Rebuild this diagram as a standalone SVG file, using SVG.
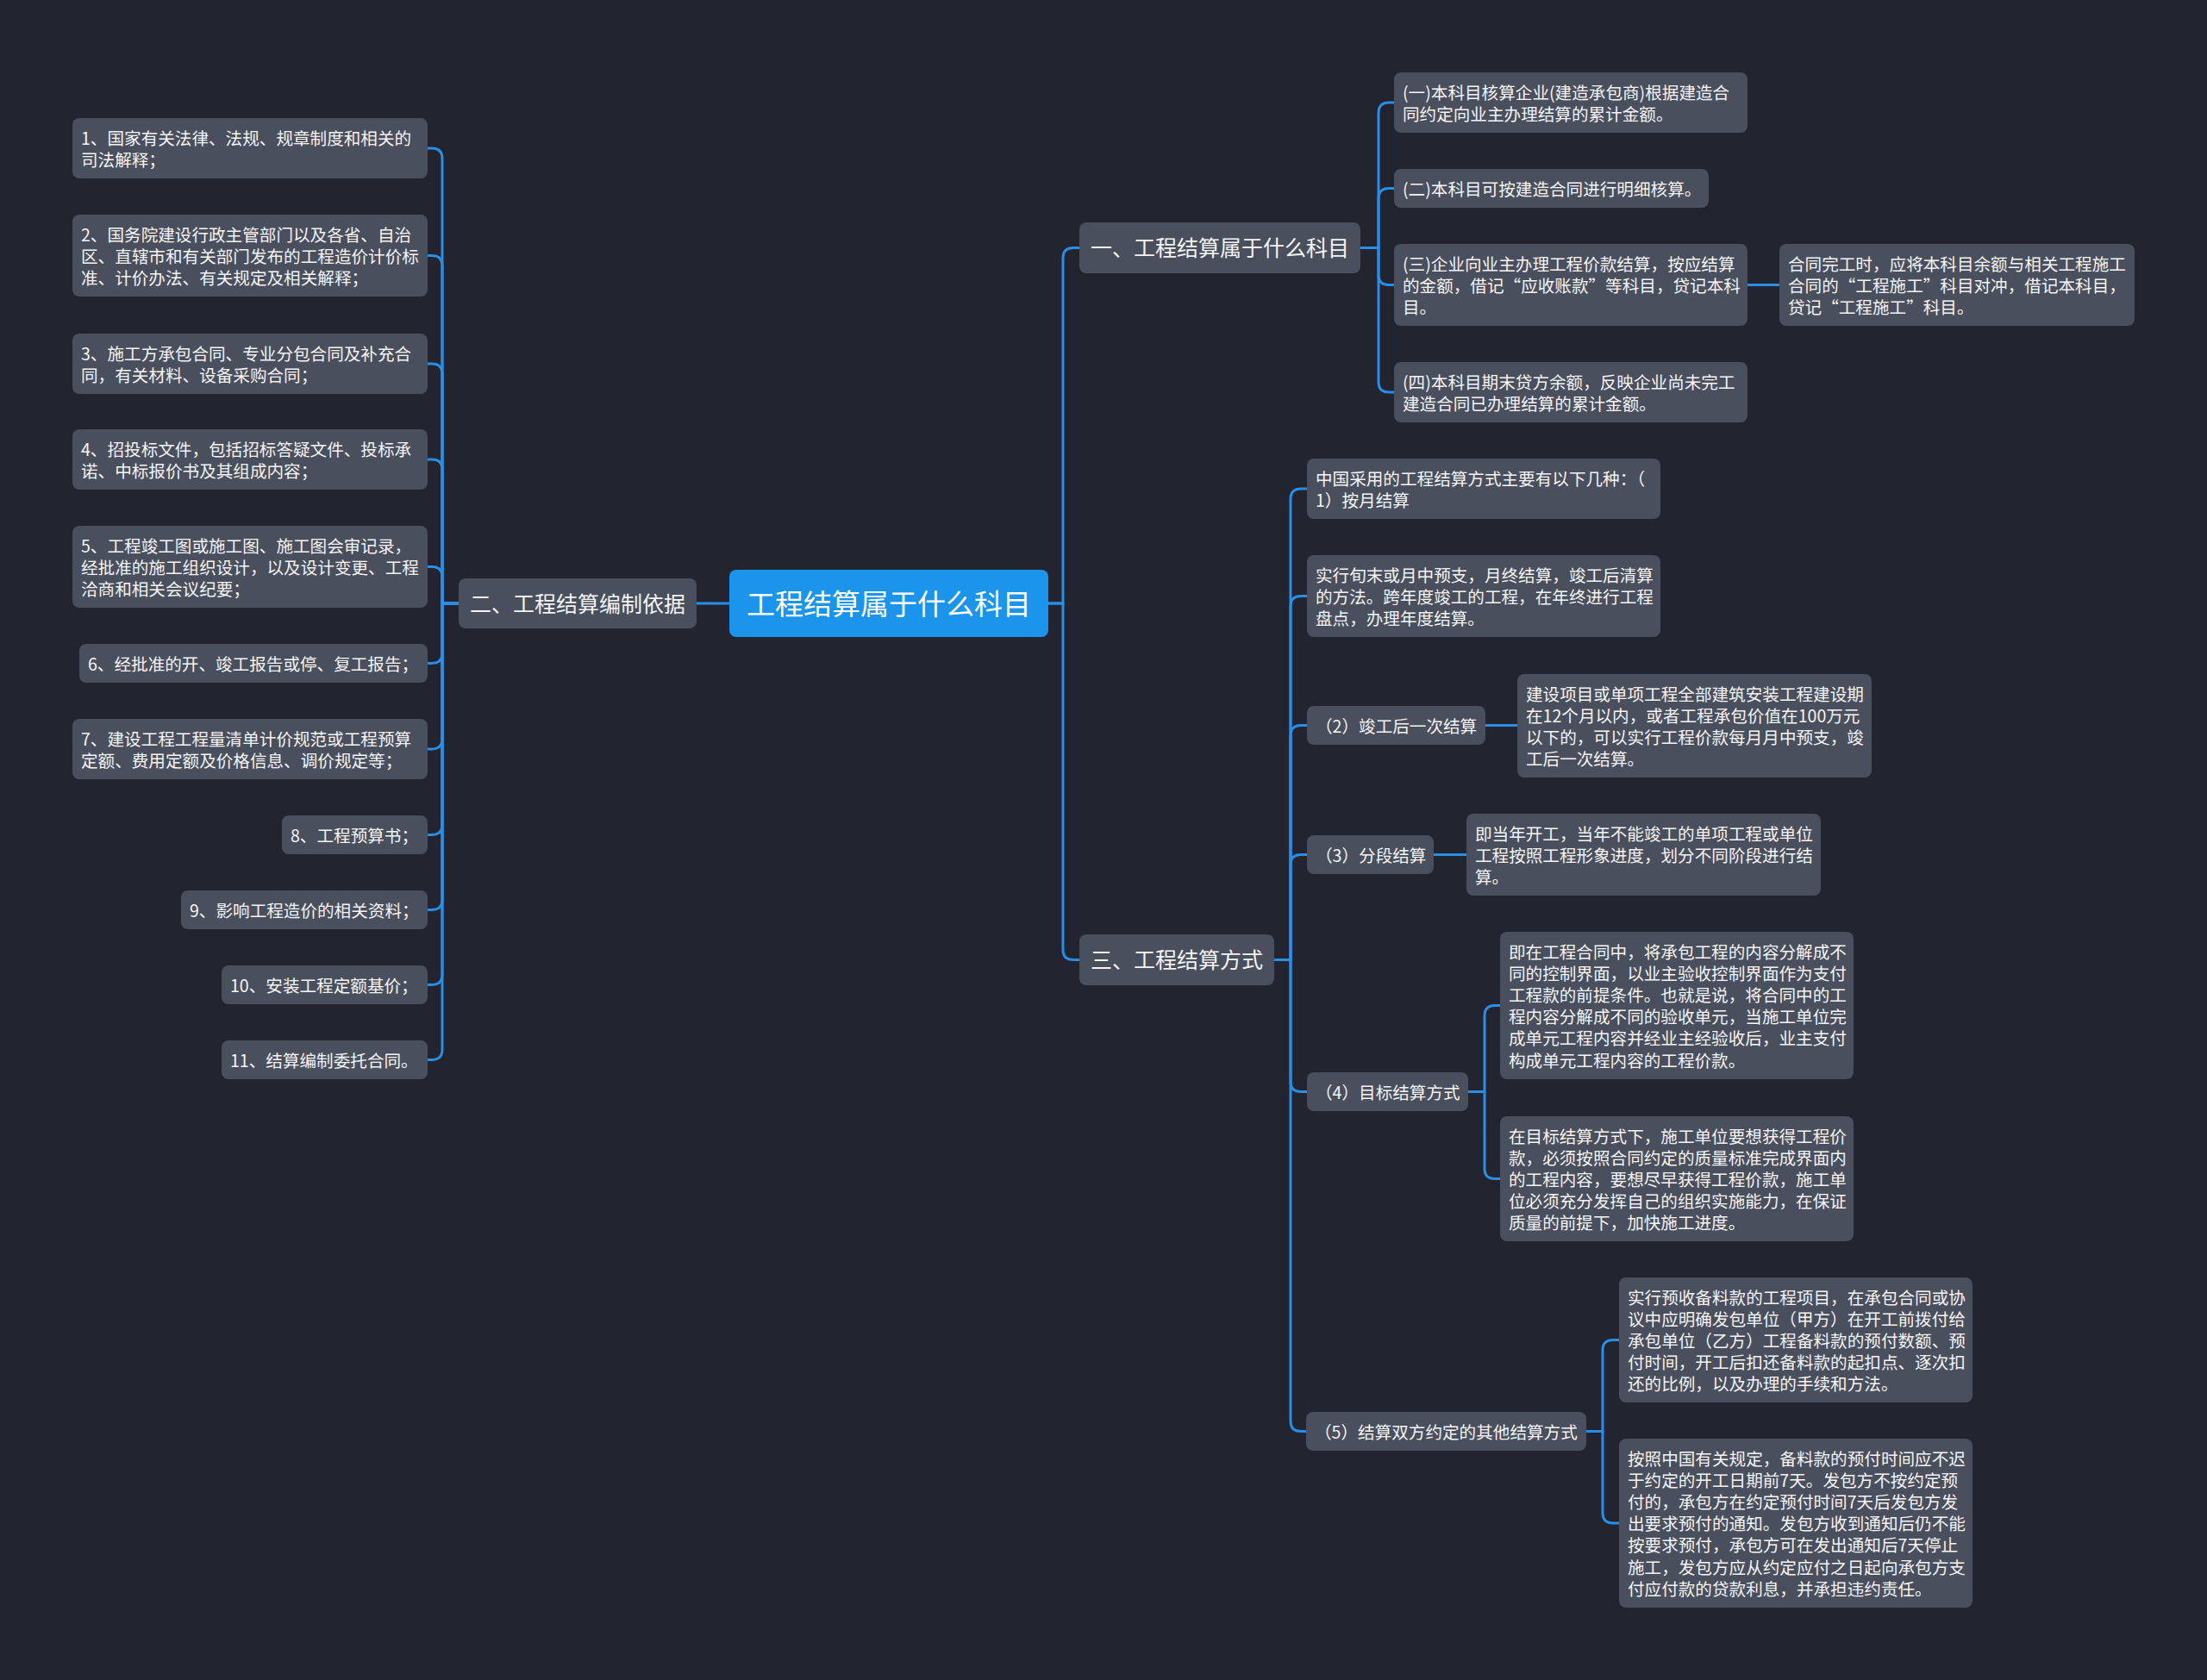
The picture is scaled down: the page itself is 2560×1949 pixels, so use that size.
<svg xmlns="http://www.w3.org/2000/svg" width="2560" height="1949" viewBox="0 0 2560 1949">
<style>
.bg{fill:#22252f}
.n{fill:#4a4f5e}
.c{fill:#1b94ec}
.t{font-family:"Noto Sans CJK SC","Noto Sans CJK JP",sans-serif;font-size:19.6px;fill:#f4f4f4}
.tb{font-family:"Noto Sans CJK SC","Noto Sans CJK JP",sans-serif;font-size:25px;fill:#f4f4f4}
.tc{font-family:"Noto Sans CJK SC","Noto Sans CJK JP",sans-serif;font-size:33px;fill:#ffffff}
.l{fill:none;stroke:#2a8de6;stroke-width:3;stroke-linecap:round;stroke-linejoin:round}
</style>
<rect class="bg" x="0" y="0" width="2560" height="1949"/>
<g id="connectors">
<path class="l" d="M846 700H808"/>
<path class="l" d="M532 700H513V184Q513 172 501 172H496"/>
<path class="l" d="M532 700H513V308.5Q513 296.5 501 296.5H496"/>
<path class="l" d="M532 700H513V434Q513 422 501 422H496"/>
<path class="l" d="M532 700H513V545Q513 533 501 533H496"/>
<path class="l" d="M532 700H513V669.5Q513 657.5 501 657.5H496"/>
<path class="l" d="M532 700H513V757.5Q513 769.5 501 769.5H496"/>
<path class="l" d="M532 700H513V857Q513 869 501 869H496"/>
<path class="l" d="M532 700H513V956.5Q513 968.5 501 968.5H496"/>
<path class="l" d="M532 700H513V1043.5Q513 1055.5 501 1055.5H496"/>
<path class="l" d="M532 700H513V1130.5Q513 1142.5 501 1142.5H496"/>
<path class="l" d="M532 700H513V1217.5Q513 1229.5 501 1229.5H496"/>
<path class="l" d="M1216 700H1233V299.5Q1233 287.5 1245 287.5H1252"/>
<path class="l" d="M1216 700H1233V1101.5Q1233 1113.5 1245 1113.5H1252"/>
<path class="l" d="M1578 287.5H1599V131Q1599 119 1611 119H1617"/>
<path class="l" d="M1578 287.5H1599V230.5Q1599 218.5 1611 218.5H1617"/>
<path class="l" d="M1578 287.5H1599V318.5Q1599 330.5 1611 330.5H1617"/>
<path class="l" d="M1578 287.5H1599V443Q1599 455 1611 455H1617"/>
<path class="l" d="M2027 330.5H2064"/>
<path class="l" d="M1478 1113.5H1497V579Q1497 567 1509 567H1516"/>
<path class="l" d="M1478 1113.5H1497V703.5Q1497 691.5 1509 691.5H1516"/>
<path class="l" d="M1478 1113.5H1497V853.5Q1497 841.5 1509 841.5H1516"/>
<path class="l" d="M1478 1113.5H1497V1003.5Q1497 991.5 1509 991.5H1516"/>
<path class="l" d="M1478 1113.5H1497V1254.5Q1497 1266.5 1509 1266.5H1516"/>
<path class="l" d="M1478 1113.5H1497V1648.5Q1497 1660.5 1509 1660.5H1515"/>
<path class="l" d="M1723 841.5H1760"/>
<path class="l" d="M1663 991.5H1701"/>
<path class="l" d="M1703 1266.5H1722V1178.5Q1722 1166.5 1734 1166.5H1740"/>
<path class="l" d="M1703 1266.5H1722V1355.5Q1722 1367.5 1734 1367.5H1740"/>
<path class="l" d="M1840 1660.5H1859V1566.5Q1859 1554.5 1871 1554.5H1878"/>
<path class="l" d="M1840 1660.5H1859V1755Q1859 1767 1871 1767H1878"/>
</g>
<g id="root"><rect class="c" x="846" y="661" width="370" height="78" rx="8"/><text class="tc" x="1031" y="712.5" text-anchor="middle">工程结算属于什么科目</text></g>
<g id="b2"><rect class="n" x="532" y="671" width="276" height="58" rx="8"/><text class="tb" x="545" y="709.5">二、工程结算编制依据</text></g>
<g id="b1"><rect class="n" x="1252" y="258" width="326" height="59" rx="8"/><text class="tb" x="1265" y="297">一、工程结算属于什么科目</text></g>
<g id="b3"><rect class="n" x="1252" y="1084" width="226" height="59" rx="8"/><text class="tb" x="1265" y="1123">三、工程结算方式</text></g>

<g id="L1"><rect class="n" x="84" y="137" width="412" height="70" rx="8"/><text class="t" x="94" y="167.5">1、国家有关法律、法规、规章制度和相关的<tspan x="94" dy="25.2">司法解释；</tspan></text></g>
<g id="L2"><rect class="n" x="84" y="249" width="412" height="95" rx="8"/><text class="t" x="94" y="279.5">2、国务院建设行政主管部门以及各省、自治<tspan x="94" dy="25.2">区、直辖市和有关部门发布的工程造价计价标</tspan><tspan x="94" dy="25.2">准、计价办法、有关规定及相关解释；</tspan></text></g>
<g id="L3"><rect class="n" x="84" y="387" width="412" height="70" rx="8"/><text class="t" x="94" y="417.5">3、施工方承包合同、专业分包合同及补充合<tspan x="94" dy="25.2">同，有关材料、设备采购合同；</tspan></text></g>
<g id="L4"><rect class="n" x="84" y="498" width="412" height="70" rx="8"/><text class="t" x="94" y="528.5">4、招投标文件，包括招标答疑文件、投标承<tspan x="94" dy="25.2">诺、中标报价书及其组成内容；</tspan></text></g>
<g id="L5"><rect class="n" x="84" y="610" width="412" height="95" rx="8"/><text class="t" x="94" y="640.5">5、工程竣工图或施工图、施工图会审记录，<tspan x="94" dy="25.2">经批准的施工组织设计，以及设计变更、工程</tspan><tspan x="94" dy="25.2">洽商和相关会议纪要；</tspan></text></g>
<g id="L6"><rect class="n" x="92" y="747" width="404" height="45" rx="8"/><text class="t" x="102" y="777.5">6、经批准的开、竣工报告或停、复工报告；</text></g>
<g id="L7"><rect class="n" x="84" y="834" width="412" height="70" rx="8"/><text class="t" x="94" y="864.5">7、建设工程工程量清单计价规范或工程预算<tspan x="94" dy="25.2">定额、费用定额及价格信息、调价规定等；</tspan></text></g>
<g id="L8"><rect class="n" x="327" y="946" width="169" height="45" rx="8"/><text class="t" x="337" y="976.5">8、工程预算书；</text></g>
<g id="L9"><rect class="n" x="210" y="1033" width="286" height="45" rx="8"/><text class="t" x="220" y="1063.5">9、影响工程造价的相关资料；</text></g>
<g id="L10"><rect class="n" x="257" y="1120" width="239" height="45" rx="8"/><text class="t" x="267" y="1150.5">10、安装工程定额基价；</text></g>
<g id="L11"><rect class="n" x="257" y="1207" width="239" height="45" rx="8"/><text class="t" x="267" y="1237.5">11、结算编制委托合同。</text></g>

<g id="R1"><rect class="n" x="1617" y="84" width="410" height="70" rx="8"/><text class="t" x="1627" y="114.5">(一)本科目核算企业(建造承包商)根据建造合<tspan x="1627" dy="25.2">同约定向业主办理结算的累计金额。</tspan></text></g>
<g id="R2"><rect class="n" x="1617" y="196" width="365" height="45" rx="8"/><text class="t" x="1627" y="226.5">(二)本科目可按建造合同进行明细核算。</text></g>
<g id="R3"><rect class="n" x="1617" y="283" width="410" height="95" rx="8"/><text class="t" x="1627" y="313.5">(三)企业向业主办理工程价款结算，按应结算<tspan x="1627" dy="25.2">的金额，借记“应收账款”等科目，贷记本科</tspan><tspan x="1627" dy="25.2">目。</tspan></text></g>
<g id="R4"><rect class="n" x="1617" y="420" width="410" height="70" rx="8"/><text class="t" x="1627" y="450.5">(四)本科目期末贷方余额，反映企业尚未完工<tspan x="1627" dy="25.2">建造合同已办理结算的累计金额。</tspan></text></g>
<g id="R3c"><rect class="n" x="2064" y="283" width="412" height="95" rx="8"/><text class="t" x="2074" y="313.5">合同完工时，应将本科目余额与相关工程施工<tspan x="2074" dy="25.2">合同的“工程施工”科目对冲，借记本科目，</tspan><tspan x="2074" dy="25.2">贷记“工程施工”科目。</tspan></text></g>

<g id="S1"><rect class="n" x="1516" y="532" width="410" height="70" rx="8"/><text class="t" x="1526" y="562.5">中国采用的工程结算方式主要有以下几种：（<tspan x="1526" dy="25.2">1）按月结算</tspan></text></g>
<g id="S2"><rect class="n" x="1516" y="644" width="410" height="95" rx="8"/><text class="t" x="1526" y="674.5">实行旬末或月中预支，月终结算，竣工后清算<tspan x="1526" dy="25.2">的方法。跨年度竣工的工程，在年终进行工程</tspan><tspan x="1526" dy="25.2">盘点，办理年度结算。</tspan></text></g>
<g id="S3"><rect class="n" x="1516" y="819" width="207" height="45" rx="8"/><text class="t" x="1526" y="849.5">（2）竣工后一次结算</text></g>
<g id="S3c"><rect class="n" x="1760" y="782" width="411" height="120" rx="8"/><text class="t" x="1770" y="812.5">建设项目或单项工程全部建筑安装工程建设期<tspan x="1770" dy="25.2">在12个月以内，或者工程承包价值在100万元</tspan><tspan x="1770" dy="25.2">以下的，可以实行工程价款每月月中预支，竣</tspan><tspan x="1770" dy="25.2">工后一次结算。</tspan></text></g>
<g id="S4"><rect class="n" x="1516" y="969" width="147" height="45" rx="8"/><text class="t" x="1526" y="999.5">（3）分段结算</text></g>
<g id="S4c"><rect class="n" x="1701" y="944" width="411" height="95" rx="8"/><text class="t" x="1711" y="974.5">即当年开工，当年不能竣工的单项工程或单位<tspan x="1711" dy="25.2">工程按照工程形象进度，划分不同阶段进行结</tspan><tspan x="1711" dy="25.2">算。</tspan></text></g>
<g id="S5"><rect class="n" x="1516" y="1244" width="187" height="45" rx="8"/><text class="t" x="1526" y="1274.5">（4）目标结算方式</text></g>
<g id="S5a"><rect class="n" x="1740" y="1081" width="410" height="171" rx="8"/><text class="t" x="1750" y="1111.5">即在工程合同中，将承包工程的内容分解成不<tspan x="1750" dy="25.2">同的控制界面，以业主验收控制界面作为支付</tspan><tspan x="1750" dy="25.2">工程款的前提条件。也就是说，将合同中的工</tspan><tspan x="1750" dy="25.2">程内容分解成不同的验收单元，当施工单位完</tspan><tspan x="1750" dy="25.2">成单元工程内容并经业主经验收后，业主支付</tspan><tspan x="1750" dy="25.2">构成单元工程内容的工程价款。</tspan></text></g>
<g id="S5b"><rect class="n" x="1740" y="1295" width="410" height="145" rx="8"/><text class="t" x="1750" y="1325.5">在目标结算方式下，施工单位要想获得工程价<tspan x="1750" dy="25.2">款，必须按照合同约定的质量标准完成界面内</tspan><tspan x="1750" dy="25.2">的工程内容，要想尽早获得工程价款，施工单</tspan><tspan x="1750" dy="25.2">位必须充分发挥自己的组织实施能力，在保证</tspan><tspan x="1750" dy="25.2">质量的前提下，加快施工进度。</tspan></text></g>
<g id="S6"><rect class="n" x="1515" y="1638" width="325" height="45" rx="8"/><text class="t" x="1525" y="1668.5">（5）结算双方约定的其他结算方式</text></g>
<g id="S6a"><rect class="n" x="1878" y="1482" width="410" height="145" rx="8"/><text class="t" x="1888" y="1512.5">实行预收备料款的工程项目，在承包合同或协<tspan x="1888" dy="25.2">议中应明确发包单位（甲方）在开工前拨付给</tspan><tspan x="1888" dy="25.2">承包单位（乙方）工程备料款的预付数额、预</tspan><tspan x="1888" dy="25.2">付时间，开工后扣还备料款的起扣点、逐次扣</tspan><tspan x="1888" dy="25.2">还的比例，以及办理的手续和方法。</tspan></text></g>
<g id="S6b"><rect class="n" x="1878" y="1669" width="410" height="196" rx="8"/><text class="t" x="1888" y="1699.5">按照中国有关规定，备料款的预付时间应不迟<tspan x="1888" dy="25.2">于约定的开工日期前7天。发包方不按约定预</tspan><tspan x="1888" dy="25.2">付的，承包方在约定预付时间7天后发包方发</tspan><tspan x="1888" dy="25.2">出要求预付的通知。发包方收到通知后仍不能</tspan><tspan x="1888" dy="25.2">按要求预付，承包方可在发出通知后7天停止</tspan><tspan x="1888" dy="25.2">施工，发包方应从约定应付之日起向承包方支</tspan><tspan x="1888" dy="25.2">付应付款的贷款利息，并承担违约责任。</tspan></text></g>
</svg>
